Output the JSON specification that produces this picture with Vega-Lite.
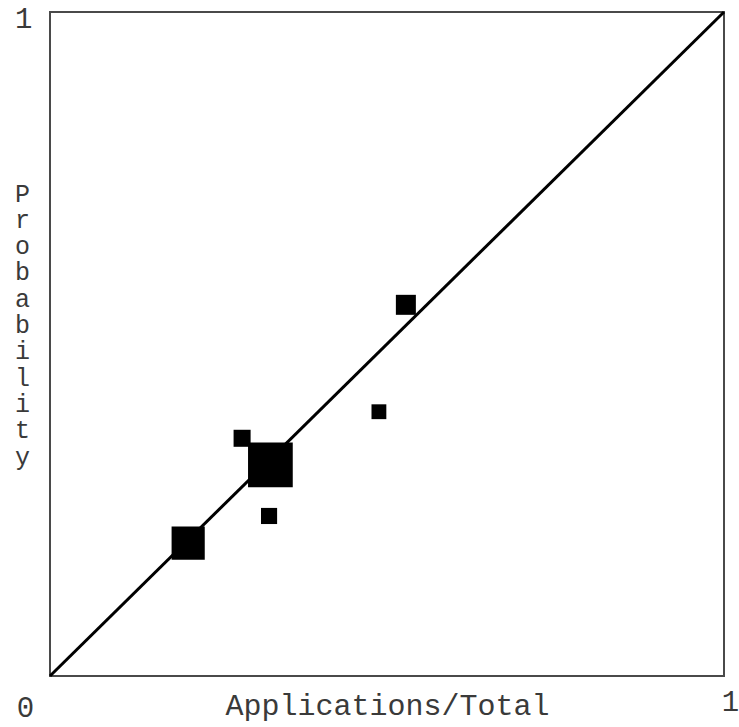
{
  "$schema": "https://vega.github.io/schema/vega-lite/v6.json",
  "width": 674,
  "height": 664,
  "autosize": "none",
  "padding": {"left": 50, "top": 12, "right": 15, "bottom": 51},
  "background": "white",
  "config": {
    "view": {"stroke": "#4a4a4a", "strokeWidth": 2},
    "font": "Liberation Mono"
  },
  "encoding": {
    "x": {"field": "x", "type": "quantitative", "scale": {"domain": [0, 1], "nice": false, "zero": false},
      "axis": {"values": [0, 1], "format": "d", "domain": false, "ticks": false, "tickSize": 0, "grid": false,
        "labelFont": "Liberation Mono", "labelFontSize": 29, "labelColor": "#3a3a3a",
        "labelBaseline": "top", "labelAlign": "center", "labelFlush": false, "labelOverlap": false,
        "labelOffset": {"condition": {"test": "datum.value == 0", "value": -25}, "value": 6},
        "labelPadding": {"condition": {"test": "datum.value == 0", "value": 17}, "value": 11},
        "title": "Applications/Total", "titleFont": "Liberation Mono", "titleFontSize": 30,
        "titleFontWeight": "normal", "titleColor": "#3a3a3a", "titleBaseline": "middle", "titleY": 29}},
    "y": {"field": "y", "type": "quantitative", "scale": {"domain": [0, 1], "nice": false, "zero": false},
      "axis": {"values": [1], "format": "d", "domain": false, "ticks": false, "tickSize": 0, "grid": false,
        "labelFont": "Liberation Mono", "labelFontSize": 29, "labelColor": "#3a3a3a",
        "labelBaseline": "middle", "labelOffset": 6, "labelPadding": 18, "labelFlush": false,
        "title": ["P", "r", "o", "b", "a", "b", "i", "l", "i", "t", "y"],
        "titleFont": "Liberation Mono", "titleFontSize": 25, "titleFontWeight": "normal",
        "titleColor": "#3a3a3a", "titleAngle": 0, "titleAlign": "center", "titleBaseline": "middle",
        "titleLineHeight": 26.3, "titleX": -28, "titleY": 181}}
  },
  "layer": [
    {
      "data": {"values": [{"x": 0, "y": 0}, {"x": 1, "y": 1}]},
      "mark": {"type": "line", "color": "black", "strokeWidth": 3}
    },
    {
      "data": {"values": [
        {"x": 0.528, "y": 0.559, "n": 4},
        {"x": 0.488, "y": 0.398, "n": 2.2},
        {"x": 0.285, "y": 0.358, "n": 2.9},
        {"x": 0.327, "y": 0.318, "n": 20},
        {"x": 0.325, "y": 0.241, "n": 2.6},
        {"x": 0.205, "y": 0.200, "n": 11}
      ]},
      "mark": {"type": "square", "filled": true, "color": "black", "opacity": 1, "strokeWidth": 0},
      "encoding": {
        "size": {"field": "n", "type": "quantitative", "scale": {"type": "linear", "domain": [0, 20], "range": [0, 2000], "zero": true}, "legend": null}
      }
    }
  ]
}
